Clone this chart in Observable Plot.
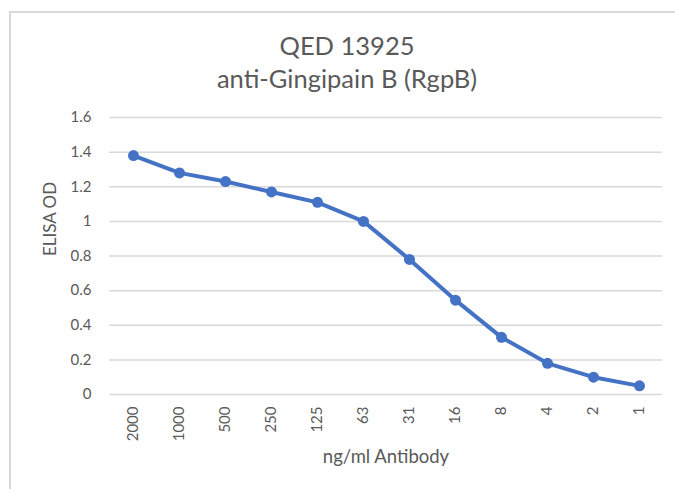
<!DOCTYPE html>
<html>
<head>
<meta charset="utf-8">
<script src="https://cdn.jsdelivr.net/npm/d3@7"></script>
<script src="https://cdn.jsdelivr.net/npm/@observablehq/plot@0.6"></script>
<style>
  html, body { margin: 0; padding: 0; background: #fff; }
  body { width: 675px; height: 489px; overflow: hidden; position: relative; }
  #frame {
    position: absolute; left: 9px; top: 11px; width: 664px; height: 478px;
    border-left: 2px solid #d9d9d9; border-top: 2px solid #d9d9d9;
  }
  #title {
    height: 87px; box-sizing: border-box; padding-top: 16px; padding-left: 8px;
    text-align: center; font-family: Lato, "Open Sans", sans-serif; font-size: 25.5px;
    line-height: 33px; color: #595959;
  }
  #chart svg { display: block; }
</style>
</head>
<body>
<div id="frame">
  <div id="title"></div>
  <div id="chart"></div>
</div>
<script>
const titleLines = ["QED 13925", "anti-Gingipain B (RgpB)"];
const concentrations = ["2000", "1000", "500", "250", "125", "63", "31", "16", "8", "4", "2", "1"];
const elisaOD = [1.38, 1.28, 1.23, 1.17, 1.11, 1.00, 0.78, 0.545, 0.33, 0.18, 0.10, 0.05];
const yTicks = [0, 0.2, 0.4, 0.6, 0.8, 1, 1.2, 1.4, 1.6];
const xLabel = "ng/ml Antibody";
const yLabel = "ELISA OD";

document.getElementById("title").innerHTML = titleLines.map(t => `<div>${t}</div>`).join("");

const data = concentrations.map((c, i) => ({conc: c, od: elisaOD[i]}));
const textColor = "#595959";
const lineColor = "#4472C4";

const chart = Plot.plot({
  width: 664,
  height: 389,
  marginTop: 17,
  marginBottom: 95,
  marginLeft: 98,
  marginRight: 13,
  style: {fontFamily: "Lato, 'Open Sans', sans-serif", fontSize: "15px", color: textColor, background: "#fff"},
  x: {type: "point", domain: concentrations, padding: 0.5},
  y: {domain: [0, 1.6]},
  marks: [
    Plot.gridY(yTicks, {stroke: "#d9d9d9", strokeOpacity: 1, strokeWidth: 1.5}),
    Plot.axisY(yTicks, {tickSize: 0, tickPadding: 18, tickFormat: d => String(d), label: null, fill: textColor}),
    Plot.axisX({tickSize: 0, tickRotate: -90, tickPadding: 12, label: null, fill: textColor}),
    Plot.line(data, {x: "conc", y: "od", stroke: lineColor, strokeWidth: 4}),
    Plot.dot(data, {x: "conc", y: "od", r: 5.5, fill: lineColor, stroke: "none"}),
    Plot.text([xLabel], {text: d => d, frameAnchor: "bottom", dy: 68, fontSize: 18.5, fill: textColor}),
    Plot.text([yLabel], {text: d => d, frameAnchor: "left", rotate: -90, dx: -59, fontSize: 17, fill: textColor})
  ]
});
document.getElementById("chart").appendChild(chart);
</script>
</body>
</html>
